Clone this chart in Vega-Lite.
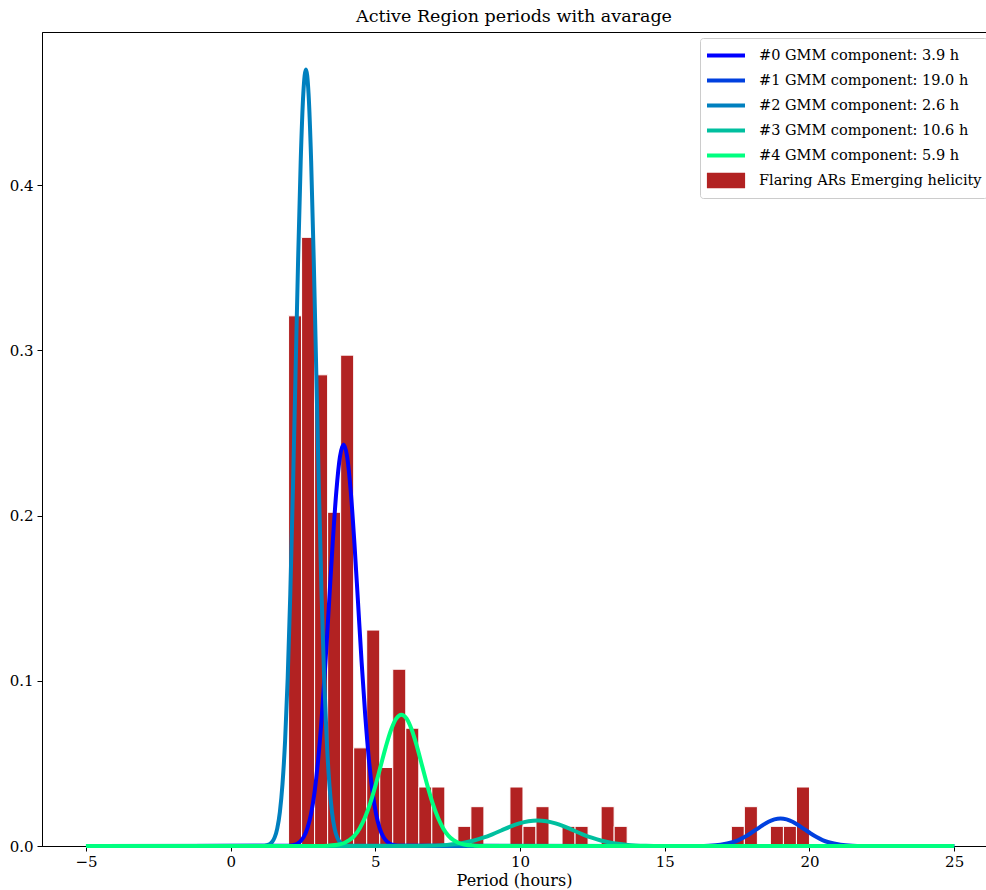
{
  "$schema": "https://vega.github.io/schema/vega-lite/v6.json",
  "width": 944,
  "height": 814,
  "autosize": {"type": "none"},
  "padding": {"left": 42, "top": 32, "right": 0, "bottom": 44},
  "background": "white",
  "title": {"text": "Active Region periods with avarage", "font": "DejaVu Serif", "fontSize": 17.5, "fontWeight": "normal", "color": "black", "offset": 7},
  "config": {
    "view": {"stroke": "black", "strokeWidth": 1},
    "axis": {"grid": false, "domainColor": "black", "tickColor": "black", "tickSize": 5, "labelColor": "black", "labelFont": "DejaVu Serif", "labelFontSize": 15, "titleFont": "DejaVu Serif", "titleFontSize": 16, "titleFontWeight": "normal", "titleColor": "black"}
  },
  "layer": [
    {
      "data": {"values": [
        {"start": 2.0, "end": 2.45, "density": 0.3209},
        {"start": 2.45, "end": 2.9, "density": 0.3684},
        {"start": 2.9, "end": 3.35, "density": 0.2852},
        {"start": 3.35, "end": 3.8, "density": 0.2020},
        {"start": 3.8, "end": 4.25, "density": 0.2971},
        {"start": 4.25, "end": 4.7, "density": 0.0594},
        {"start": 4.7, "end": 5.15, "density": 0.1307},
        {"start": 5.15, "end": 5.6, "density": 0.0475},
        {"start": 5.6, "end": 6.05, "density": 0.1070},
        {"start": 6.05, "end": 6.5, "density": 0.0713},
        {"start": 6.5, "end": 6.95, "density": 0.0357},
        {"start": 6.95, "end": 7.4, "density": 0.0357},
        {"start": 7.85, "end": 8.3, "density": 0.0119},
        {"start": 8.3, "end": 8.75, "density": 0.0238},
        {"start": 9.65, "end": 10.1, "density": 0.0357},
        {"start": 10.1, "end": 10.55, "density": 0.0119},
        {"start": 10.55, "end": 11.0, "density": 0.0238},
        {"start": 11.45, "end": 11.9, "density": 0.0119},
        {"start": 11.9, "end": 12.35, "density": 0.0119},
        {"start": 12.8, "end": 13.25, "density": 0.0238},
        {"start": 13.25, "end": 13.7, "density": 0.0119},
        {"start": 17.3, "end": 17.75, "density": 0.0119},
        {"start": 17.75, "end": 18.2, "density": 0.0238},
        {"start": 18.65, "end": 19.1, "density": 0.0119},
        {"start": 19.1, "end": 19.55, "density": 0.0119},
        {"start": 19.55, "end": 20.0, "density": 0.0357}
      ]},
      "mark": {"type": "bar", "stroke": "white", "strokeWidth": 1},
      "encoding": {
        "x": {"field": "start", "type": "quantitative", "scale": {"domain": [-6.52, 26.1], "nice": false, "zero": false},
              "axis": {"values": [-5, 0, 5, 10, 15, 20, 25], "title": "Period (hours)", "labelPadding": 3, "titlePadding": 3}},
        "x2": {"field": "end"},
        "y": {"field": "density", "type": "quantitative", "scale": {"domain": [0, 0.4927], "nice": false},
              "axis": {"values": [0, 0.1, 0.2, 0.3, 0.4], "format": ".1f", "title": null, "labelPadding": 4}},
        "y2": {"datum": 0},
        "color": {"datum": "Flaring ARs Emerging helicity", "type": "nominal",
          "scale": {"domain": ["#0 GMM component: 3.9 h", "#1 GMM component: 19.0 h", "#2 GMM component: 2.6 h", "#3 GMM component: 10.6 h", "#4 GMM component: 5.9 h", "Flaring ARs Emerging helicity"],
                    "range": ["#0000ff", "#0040df", "#0080bf", "#00bf9f", "#00ff80", "#b22222"]},
          "legend": {"orient": "none", "legendX": 658, "legendY": 6, "title": null, "symbolType": "stroke", "symbolSize": 1444, "symbolStrokeWidth": 4, "clipHeight": 25, "rowPadding": 0,
                     "labelFont": "DejaVu Serif", "labelFontSize": 14.5, "labelColor": "black", "labelOffset": 12, "labelLimit": 400,
                     "fillColor": "white", "strokeColor": "#cccccc", "cornerRadius": 3, "padding": 5,
                     "encode": {"symbols": {"update": {
                       "shape": {"signal": "datum.value === 'Flaring ARs Emerging helicity' ? 'M-0.9,-0.3H0.9V0.3H-0.9Z' : 'M-1,0H1'"},
                       "fill": {"signal": "datum.value === 'Flaring ARs Emerging helicity' ? '#b22222' : 'transparent'"},
                       "stroke": {"signal": "datum.value === 'Flaring ARs Emerging helicity' ? 'transparent' : scale('color', datum.value)"},
                       "strokeWidth": {"value": 4},
                       "opacity": {"value": 1}
                     }}}}
        }
      }
    },
    {
      "data": {"values": [
        {"c": "#0 GMM component: 3.9 h", "x": -5, "y": 0},
        {"c": "#0 GMM component: 3.9 h", "x": 1.9, "y": 0.0001},
        {"c": "#0 GMM component: 3.9 h", "x": 2.15, "y": 0.0005},
        {"c": "#0 GMM component: 3.9 h", "x": 2.4, "y": 0.0027},
        {"c": "#0 GMM component: 3.9 h", "x": 2.525, "y": 0.0055},
        {"c": "#0 GMM component: 3.9 h", "x": 2.65, "y": 0.0107},
        {"c": "#0 GMM component: 3.9 h", "x": 2.775, "y": 0.0193},
        {"c": "#0 GMM component: 3.9 h", "x": 2.9, "y": 0.0329},
        {"c": "#0 GMM component: 3.9 h", "x": 3.025, "y": 0.0526},
        {"c": "#0 GMM component: 3.9 h", "x": 3.15, "y": 0.0789},
        {"c": "#0 GMM component: 3.9 h", "x": 3.275, "y": 0.1112},
        {"c": "#0 GMM component: 3.9 h", "x": 3.4, "y": 0.1474},
        {"c": "#0 GMM component: 3.9 h", "x": 3.525, "y": 0.1834},
        {"c": "#0 GMM component: 3.9 h", "x": 3.65, "y": 0.2144},
        {"c": "#0 GMM component: 3.9 h", "x": 3.775, "y": 0.2355},
        {"c": "#0 GMM component: 3.9 h", "x": 3.9, "y": 0.243},
        {"c": "#0 GMM component: 3.9 h", "x": 4.025, "y": 0.2355},
        {"c": "#0 GMM component: 3.9 h", "x": 4.15, "y": 0.2144},
        {"c": "#0 GMM component: 3.9 h", "x": 4.275, "y": 0.1834},
        {"c": "#0 GMM component: 3.9 h", "x": 4.4, "y": 0.1474},
        {"c": "#0 GMM component: 3.9 h", "x": 4.525, "y": 0.1112},
        {"c": "#0 GMM component: 3.9 h", "x": 4.65, "y": 0.0789},
        {"c": "#0 GMM component: 3.9 h", "x": 4.775, "y": 0.0526},
        {"c": "#0 GMM component: 3.9 h", "x": 4.9, "y": 0.0329},
        {"c": "#0 GMM component: 3.9 h", "x": 5.025, "y": 0.0193},
        {"c": "#0 GMM component: 3.9 h", "x": 5.15, "y": 0.0107},
        {"c": "#0 GMM component: 3.9 h", "x": 5.275, "y": 0.0055},
        {"c": "#0 GMM component: 3.9 h", "x": 5.4, "y": 0.0027},
        {"c": "#0 GMM component: 3.9 h", "x": 5.65, "y": 0.0005},
        {"c": "#0 GMM component: 3.9 h", "x": 5.9, "y": 0.0001},
        {"c": "#0 GMM component: 3.9 h", "x": 25, "y": 0},

        {"c": "#1 GMM component: 19.0 h", "x": -5, "y": 0},
        {"c": "#1 GMM component: 19.0 h", "x": 15.68, "y": 0},
        {"c": "#1 GMM component: 19.0 h", "x": 16.095, "y": 0.00004},
        {"c": "#1 GMM component: 19.0 h", "x": 16.51, "y": 0.00018},
        {"c": "#1 GMM component: 19.0 h", "x": 16.925, "y": 0.00073},
        {"c": "#1 GMM component: 19.0 h", "x": 17.34, "y": 0.00225},
        {"c": "#1 GMM component: 19.0 h", "x": 17.55, "y": 0.00359},
        {"c": "#1 GMM component: 19.0 h", "x": 17.755, "y": 0.00539},
        {"c": "#1 GMM component: 19.0 h", "x": 17.96, "y": 0.0076},
        {"c": "#1 GMM component: 19.0 h", "x": 18.17, "y": 0.01007},
        {"c": "#1 GMM component: 19.0 h", "x": 18.38, "y": 0.01253},
        {"c": "#1 GMM component: 19.0 h", "x": 18.585, "y": 0.01465},
        {"c": "#1 GMM component: 19.0 h", "x": 18.79, "y": 0.01609},
        {"c": "#1 GMM component: 19.0 h", "x": 19.0, "y": 0.0166},
        {"c": "#1 GMM component: 19.0 h", "x": 19.21, "y": 0.01609},
        {"c": "#1 GMM component: 19.0 h", "x": 19.415, "y": 0.01465},
        {"c": "#1 GMM component: 19.0 h", "x": 19.62, "y": 0.01253},
        {"c": "#1 GMM component: 19.0 h", "x": 19.83, "y": 0.01007},
        {"c": "#1 GMM component: 19.0 h", "x": 20.04, "y": 0.0076},
        {"c": "#1 GMM component: 19.0 h", "x": 20.245, "y": 0.00539},
        {"c": "#1 GMM component: 19.0 h", "x": 20.45, "y": 0.00359},
        {"c": "#1 GMM component: 19.0 h", "x": 20.66, "y": 0.00225},
        {"c": "#1 GMM component: 19.0 h", "x": 21.075, "y": 0.00073},
        {"c": "#1 GMM component: 19.0 h", "x": 21.49, "y": 0.00018},
        {"c": "#1 GMM component: 19.0 h", "x": 21.905, "y": 0.00004},
        {"c": "#1 GMM component: 19.0 h", "x": 22.32, "y": 0},
        {"c": "#1 GMM component: 19.0 h", "x": 25, "y": 0},

        {"c": "#2 GMM component: 2.6 h", "x": -5, "y": 0},
        {"c": "#2 GMM component: 2.6 h", "x": 1.16, "y": 0.0002},
        {"c": "#2 GMM component: 2.6 h", "x": 1.34, "y": 0.001},
        {"c": "#2 GMM component: 2.6 h", "x": 1.43, "y": 0.0024},
        {"c": "#2 GMM component: 2.6 h", "x": 1.52, "y": 0.0052},
        {"c": "#2 GMM component: 2.6 h", "x": 1.61, "y": 0.0107},
        {"c": "#2 GMM component: 2.6 h", "x": 1.7, "y": 0.0206},
        {"c": "#2 GMM component: 2.6 h", "x": 1.79, "y": 0.0374},
        {"c": "#2 GMM component: 2.6 h", "x": 1.88, "y": 0.0636},
        {"c": "#2 GMM component: 2.6 h", "x": 1.97, "y": 0.1017},
        {"c": "#2 GMM component: 2.6 h", "x": 2.06, "y": 0.1526},
        {"c": "#2 GMM component: 2.6 h", "x": 2.15, "y": 0.2152},
        {"c": "#2 GMM component: 2.6 h", "x": 2.24, "y": 0.2851},
        {"c": "#2 GMM component: 2.6 h", "x": 2.33, "y": 0.3548},
        {"c": "#2 GMM component: 2.6 h", "x": 2.42, "y": 0.4148},
        {"c": "#2 GMM component: 2.6 h", "x": 2.51, "y": 0.4555},
        {"c": "#2 GMM component: 2.6 h", "x": 2.6, "y": 0.47},
        {"c": "#2 GMM component: 2.6 h", "x": 2.69, "y": 0.4555},
        {"c": "#2 GMM component: 2.6 h", "x": 2.78, "y": 0.4148},
        {"c": "#2 GMM component: 2.6 h", "x": 2.87, "y": 0.3548},
        {"c": "#2 GMM component: 2.6 h", "x": 2.96, "y": 0.2851},
        {"c": "#2 GMM component: 2.6 h", "x": 3.05, "y": 0.2152},
        {"c": "#2 GMM component: 2.6 h", "x": 3.14, "y": 0.1526},
        {"c": "#2 GMM component: 2.6 h", "x": 3.23, "y": 0.1017},
        {"c": "#2 GMM component: 2.6 h", "x": 3.32, "y": 0.0636},
        {"c": "#2 GMM component: 2.6 h", "x": 3.41, "y": 0.0374},
        {"c": "#2 GMM component: 2.6 h", "x": 3.5, "y": 0.0206},
        {"c": "#2 GMM component: 2.6 h", "x": 3.59, "y": 0.0107},
        {"c": "#2 GMM component: 2.6 h", "x": 3.68, "y": 0.0052},
        {"c": "#2 GMM component: 2.6 h", "x": 3.77, "y": 0.0024},
        {"c": "#2 GMM component: 2.6 h", "x": 3.86, "y": 0.001},
        {"c": "#2 GMM component: 2.6 h", "x": 4.04, "y": 0.0002},
        {"c": "#2 GMM component: 2.6 h", "x": 25, "y": 0},

        {"c": "#3 GMM component: 10.6 h", "x": -5, "y": 0},
        {"c": "#3 GMM component: 10.6 h", "x": 5.6, "y": 0},
        {"c": "#3 GMM component: 10.6 h", "x": 6.225, "y": 0.00003},
        {"c": "#3 GMM component: 10.6 h", "x": 6.85, "y": 0.00017},
        {"c": "#3 GMM component: 10.6 h", "x": 7.475, "y": 0.00068},
        {"c": "#3 GMM component: 10.6 h", "x": 8.1, "y": 0.0021},
        {"c": "#3 GMM component: 10.6 h", "x": 8.41, "y": 0.00335},
        {"c": "#3 GMM component: 10.6 h", "x": 8.725, "y": 0.00503},
        {"c": "#3 GMM component: 10.6 h", "x": 9.04, "y": 0.0071},
        {"c": "#3 GMM component: 10.6 h", "x": 9.35, "y": 0.0094},
        {"c": "#3 GMM component: 10.6 h", "x": 9.66, "y": 0.0117},
        {"c": "#3 GMM component: 10.6 h", "x": 9.975, "y": 0.01368},
        {"c": "#3 GMM component: 10.6 h", "x": 10.29, "y": 0.01502},
        {"c": "#3 GMM component: 10.6 h", "x": 10.6, "y": 0.0155},
        {"c": "#3 GMM component: 10.6 h", "x": 10.91, "y": 0.01502},
        {"c": "#3 GMM component: 10.6 h", "x": 11.225, "y": 0.01368},
        {"c": "#3 GMM component: 10.6 h", "x": 11.54, "y": 0.0117},
        {"c": "#3 GMM component: 10.6 h", "x": 11.85, "y": 0.0094},
        {"c": "#3 GMM component: 10.6 h", "x": 12.16, "y": 0.0071},
        {"c": "#3 GMM component: 10.6 h", "x": 12.475, "y": 0.00503},
        {"c": "#3 GMM component: 10.6 h", "x": 12.79, "y": 0.00335},
        {"c": "#3 GMM component: 10.6 h", "x": 13.1, "y": 0.0021},
        {"c": "#3 GMM component: 10.6 h", "x": 13.725, "y": 0.00068},
        {"c": "#3 GMM component: 10.6 h", "x": 14.35, "y": 0.00017},
        {"c": "#3 GMM component: 10.6 h", "x": 14.975, "y": 0.00003},
        {"c": "#3 GMM component: 10.6 h", "x": 15.6, "y": 0},
        {"c": "#3 GMM component: 10.6 h", "x": 25, "y": 0},

        {"c": "#4 GMM component: 5.9 h", "x": -5, "y": 0},
        {"c": "#4 GMM component: 5.9 h", "x": 3.02, "y": 0},
        {"c": "#4 GMM component: 5.9 h", "x": 3.38, "y": 0.0002},
        {"c": "#4 GMM component: 5.9 h", "x": 3.74, "y": 0.0009},
        {"c": "#4 GMM component: 5.9 h", "x": 3.92, "y": 0.0018},
        {"c": "#4 GMM component: 5.9 h", "x": 4.1, "y": 0.0035},
        {"c": "#4 GMM component: 5.9 h", "x": 4.28, "y": 0.0063},
        {"c": "#4 GMM component: 5.9 h", "x": 4.46, "y": 0.0108},
        {"c": "#4 GMM component: 5.9 h", "x": 4.64, "y": 0.0172},
        {"c": "#4 GMM component: 5.9 h", "x": 4.82, "y": 0.0258},
        {"c": "#4 GMM component: 5.9 h", "x": 5.0, "y": 0.0364},
        {"c": "#4 GMM component: 5.9 h", "x": 5.18, "y": 0.0482},
        {"c": "#4 GMM component: 5.9 h", "x": 5.36, "y": 0.06},
        {"c": "#4 GMM component: 5.9 h", "x": 5.54, "y": 0.0702},
        {"c": "#4 GMM component: 5.9 h", "x": 5.72, "y": 0.0771},
        {"c": "#4 GMM component: 5.9 h", "x": 5.9, "y": 0.0795},
        {"c": "#4 GMM component: 5.9 h", "x": 6.08, "y": 0.0771},
        {"c": "#4 GMM component: 5.9 h", "x": 6.26, "y": 0.0702},
        {"c": "#4 GMM component: 5.9 h", "x": 6.44, "y": 0.06},
        {"c": "#4 GMM component: 5.9 h", "x": 6.62, "y": 0.0482},
        {"c": "#4 GMM component: 5.9 h", "x": 6.8, "y": 0.0364},
        {"c": "#4 GMM component: 5.9 h", "x": 6.98, "y": 0.0258},
        {"c": "#4 GMM component: 5.9 h", "x": 7.16, "y": 0.0172},
        {"c": "#4 GMM component: 5.9 h", "x": 7.34, "y": 0.0108},
        {"c": "#4 GMM component: 5.9 h", "x": 7.52, "y": 0.0063},
        {"c": "#4 GMM component: 5.9 h", "x": 7.7, "y": 0.0035},
        {"c": "#4 GMM component: 5.9 h", "x": 7.88, "y": 0.0018},
        {"c": "#4 GMM component: 5.9 h", "x": 8.06, "y": 0.0009},
        {"c": "#4 GMM component: 5.9 h", "x": 8.42, "y": 0.0002},
        {"c": "#4 GMM component: 5.9 h", "x": 8.78, "y": 0},
        {"c": "#4 GMM component: 5.9 h", "x": 25, "y": 0}
      ]},
      "mark": {"type": "line", "strokeWidth": 4, "interpolate": "monotone"},
      "encoding": {
        "x": {"field": "x", "type": "quantitative"},
        "y": {"field": "y", "type": "quantitative"},
        "color": {"field": "c", "type": "nominal",
          "legend": {"orient": "none", "legendX": 658, "legendY": 6, "title": null, "symbolType": "stroke", "symbolSize": 1444, "symbolStrokeWidth": 4, "clipHeight": 25, "rowPadding": 0,
                     "labelFont": "DejaVu Serif", "labelFontSize": 14.5, "labelColor": "black", "labelOffset": 12, "labelLimit": 400,
                     "fillColor": "white", "strokeColor": "#cccccc", "cornerRadius": 3, "padding": 5,
                     "encode": {"symbols": {"update": {
                       "shape": {"signal": "datum.value === 'Flaring ARs Emerging helicity' ? 'M-0.9,-0.3H0.9V0.3H-0.9Z' : 'M-1,0H1'"},
                       "fill": {"signal": "datum.value === 'Flaring ARs Emerging helicity' ? '#b22222' : 'transparent'"},
                       "stroke": {"signal": "datum.value === 'Flaring ARs Emerging helicity' ? 'transparent' : scale('color', datum.value)"},
                       "strokeWidth": {"value": 4},
                       "opacity": {"value": 1}
                     }}}}
        }
      }
    }
  ]
}
